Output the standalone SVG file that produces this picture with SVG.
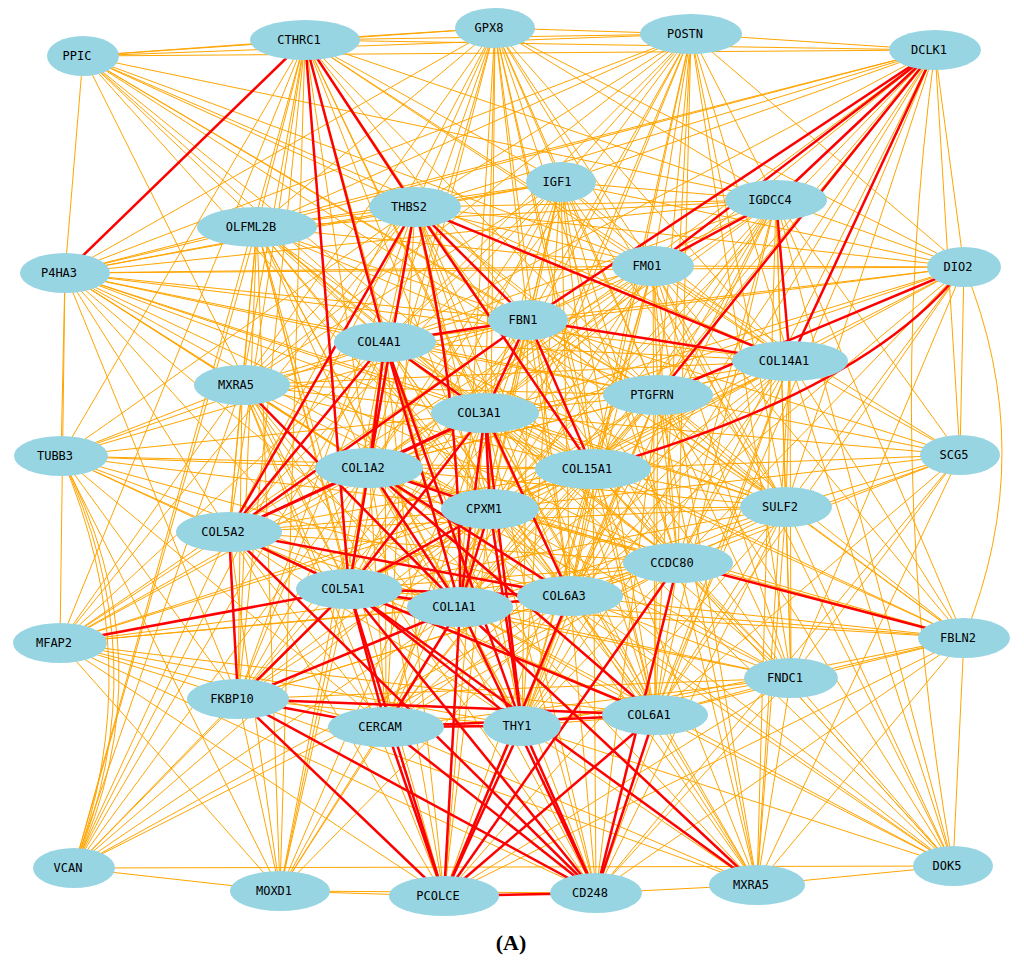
<svg xmlns="http://www.w3.org/2000/svg" width="1024" height="964" viewBox="0 0 1024 964">
<style>
.e{stroke:#ffa500;stroke-width:1;fill:none}
.r{stroke:#ff0000;stroke-width:2.5;fill:none}
.n ellipse{fill:#98d5e3}
.n text{font-family:"DejaVu Sans Mono","Liberation Mono",monospace;font-size:12px;fill:#000;text-anchor:middle}
.cap{font-family:"Liberation Serif","Times New Roman",serif;font-weight:bold;font-size:22px;fill:#000;text-anchor:middle}
</style>
<rect width="1024" height="964" fill="#fff"/>
<g id="connectors">
<g class="e">
<line x1="83" y1="56" x2="305" y2="40"/><line x1="83" y1="56" x2="495" y2="28"/><line x1="83" y1="56" x2="691" y2="34"/><line x1="83" y1="56" x2="935" y2="50"/><line x1="83" y1="56" x2="415" y2="207"/><line x1="83" y1="56" x2="776" y2="200"/><line x1="83" y1="56" x2="65" y2="273"/><line x1="83" y1="56" x2="653" y2="266"/><line x1="83" y1="56" x2="528" y2="320"/><line x1="83" y1="56" x2="385" y2="342"/><line x1="83" y1="56" x2="790" y2="361"/><line x1="83" y1="56" x2="658" y2="395"/><line x1="83" y1="56" x2="485" y2="413"/><line x1="83" y1="56" x2="593" y2="469"/><line x1="83" y1="56" x2="490" y2="509"/><line x1="83" y1="56" x2="786" y2="507"/><line x1="83" y1="56" x2="349" y2="589"/>
<line x1="305" y1="40" x2="495" y2="28"/><line x1="305" y1="40" x2="691" y2="34"/><line x1="305" y1="40" x2="935" y2="50"/><line x1="305" y1="40" x2="561" y2="182"/><line x1="305" y1="40" x2="257" y2="227"/><line x1="305" y1="40" x2="776" y2="200"/><line x1="305" y1="40" x2="653" y2="266"/><line x1="305" y1="40" x2="528" y2="320"/><line x1="305" y1="40" x2="790" y2="361"/><line x1="305" y1="40" x2="242" y2="385"/><line x1="305" y1="40" x2="658" y2="395"/><line x1="305" y1="40" x2="485" y2="413"/><line x1="305" y1="40" x2="61" y2="456"/><line x1="305" y1="40" x2="369" y2="468"/><line x1="305" y1="40" x2="593" y2="469"/><line x1="305" y1="40" x2="490" y2="509"/><line x1="305" y1="40" x2="229" y2="532"/><line x1="305" y1="40" x2="460" y2="607"/><line x1="305" y1="40" x2="570" y2="596"/><line x1="305" y1="40" x2="60" y2="643"/><line x1="305" y1="40" x2="238" y2="699"/><line x1="305" y1="40" x2="74" y2="868"/><line x1="305" y1="40" x2="280" y2="891"/>
<line x1="495" y1="28" x2="691" y2="34"/><line x1="495" y1="28" x2="561" y2="182"/><line x1="495" y1="28" x2="415" y2="207"/><line x1="495" y1="28" x2="257" y2="227"/><line x1="495" y1="28" x2="776" y2="200"/><line x1="495" y1="28" x2="65" y2="273"/><line x1="495" y1="28" x2="653" y2="266"/><line x1="495" y1="28" x2="964" y2="267"/><line x1="495" y1="28" x2="528" y2="320"/><line x1="495" y1="28" x2="385" y2="342"/><line x1="495" y1="28" x2="790" y2="361"/><line x1="495" y1="28" x2="242" y2="385"/><line x1="495" y1="28" x2="658" y2="395"/><line x1="495" y1="28" x2="485" y2="413"/><line x1="495" y1="28" x2="369" y2="468"/><line x1="495" y1="28" x2="593" y2="469"/><line x1="495" y1="28" x2="490" y2="509"/><line x1="495" y1="28" x2="786" y2="507"/><line x1="495" y1="28" x2="229" y2="532"/><line x1="495" y1="28" x2="678" y2="563"/><line x1="495" y1="28" x2="349" y2="589"/><line x1="495" y1="28" x2="460" y2="607"/><line x1="495" y1="28" x2="570" y2="596"/><line x1="495" y1="28" x2="655" y2="715"/>
<line x1="691" y1="34" x2="935" y2="50"/><line x1="691" y1="34" x2="561" y2="182"/><line x1="691" y1="34" x2="415" y2="207"/><line x1="691" y1="34" x2="257" y2="227"/><line x1="691" y1="34" x2="776" y2="200"/><line x1="691" y1="34" x2="65" y2="273"/><line x1="691" y1="34" x2="653" y2="266"/><line x1="691" y1="34" x2="964" y2="267"/><line x1="691" y1="34" x2="528" y2="320"/><line x1="691" y1="34" x2="385" y2="342"/><line x1="691" y1="34" x2="790" y2="361"/><line x1="691" y1="34" x2="242" y2="385"/><line x1="691" y1="34" x2="658" y2="395"/><line x1="691" y1="34" x2="485" y2="413"/><line x1="691" y1="34" x2="369" y2="468"/><line x1="691" y1="34" x2="593" y2="469"/><line x1="691" y1="34" x2="490" y2="509"/><line x1="691" y1="34" x2="786" y2="507"/><line x1="691" y1="34" x2="678" y2="563"/><line x1="691" y1="34" x2="460" y2="607"/><line x1="691" y1="34" x2="570" y2="596"/><line x1="691" y1="34" x2="791" y2="678"/><line x1="691" y1="34" x2="655" y2="715"/>
<line x1="935" y1="50" x2="561" y2="182"/><line x1="935" y1="50" x2="415" y2="207"/><line x1="935" y1="50" x2="257" y2="227"/><line x1="935" y1="50" x2="65" y2="273"/><line x1="935" y1="50" x2="964" y2="267"/><line x1="935" y1="50" x2="385" y2="342"/><line x1="935" y1="50" x2="485" y2="413"/><line x1="935" y1="50" x2="960" y2="455"/><line x1="935" y1="50" x2="369" y2="468"/><line x1="935" y1="50" x2="593" y2="469"/><line x1="935" y1="50" x2="490" y2="509"/><line x1="935" y1="50" x2="786" y2="507"/><line x1="935" y1="50" x2="678" y2="563"/><line x1="935" y1="50" x2="460" y2="607"/><line x1="935" y1="50" x2="570" y2="596"/><line x1="935" y1="50" x2="522" y2="726"/><line x1="935" y1="50" x2="655" y2="715"/>
<line x1="561" y1="182" x2="415" y2="207"/><line x1="561" y1="182" x2="257" y2="227"/><line x1="561" y1="182" x2="776" y2="200"/><line x1="561" y1="182" x2="65" y2="273"/><line x1="561" y1="182" x2="653" y2="266"/><line x1="561" y1="182" x2="964" y2="267"/><line x1="561" y1="182" x2="528" y2="320"/><line x1="561" y1="182" x2="385" y2="342"/><line x1="561" y1="182" x2="790" y2="361"/><line x1="561" y1="182" x2="242" y2="385"/><line x1="561" y1="182" x2="658" y2="395"/><line x1="561" y1="182" x2="485" y2="413"/><line x1="561" y1="182" x2="369" y2="468"/><line x1="561" y1="182" x2="593" y2="469"/><line x1="561" y1="182" x2="490" y2="509"/><line x1="561" y1="182" x2="786" y2="507"/><line x1="561" y1="182" x2="229" y2="532"/><line x1="561" y1="182" x2="678" y2="563"/><line x1="561" y1="182" x2="349" y2="589"/><line x1="561" y1="182" x2="460" y2="607"/><line x1="561" y1="182" x2="570" y2="596"/><line x1="561" y1="182" x2="522" y2="726"/><line x1="561" y1="182" x2="655" y2="715"/>
<line x1="415" y1="207" x2="257" y2="227"/><line x1="415" y1="207" x2="776" y2="200"/><line x1="415" y1="207" x2="65" y2="273"/><line x1="415" y1="207" x2="653" y2="266"/><line x1="415" y1="207" x2="964" y2="267"/><line x1="415" y1="207" x2="385" y2="342"/><line x1="415" y1="207" x2="242" y2="385"/><line x1="415" y1="207" x2="658" y2="395"/><line x1="415" y1="207" x2="485" y2="413"/><line x1="415" y1="207" x2="61" y2="456"/><line x1="415" y1="207" x2="490" y2="509"/><line x1="415" y1="207" x2="786" y2="507"/><line x1="415" y1="207" x2="678" y2="563"/><line x1="415" y1="207" x2="349" y2="589"/><line x1="415" y1="207" x2="570" y2="596"/><line x1="415" y1="207" x2="60" y2="643"/><line x1="415" y1="207" x2="238" y2="699"/><line x1="415" y1="207" x2="386" y2="727"/><line x1="415" y1="207" x2="522" y2="726"/><line x1="415" y1="207" x2="655" y2="715"/><line x1="415" y1="207" x2="74" y2="868"/>
<line x1="257" y1="227" x2="776" y2="200"/><line x1="257" y1="227" x2="65" y2="273"/><line x1="257" y1="227" x2="653" y2="266"/><line x1="257" y1="227" x2="528" y2="320"/><line x1="257" y1="227" x2="385" y2="342"/><line x1="257" y1="227" x2="242" y2="385"/><line x1="257" y1="227" x2="658" y2="395"/><line x1="257" y1="227" x2="485" y2="413"/><line x1="257" y1="227" x2="369" y2="468"/><line x1="257" y1="227" x2="593" y2="469"/><line x1="257" y1="227" x2="490" y2="509"/><line x1="257" y1="227" x2="229" y2="532"/><line x1="257" y1="227" x2="678" y2="563"/><line x1="257" y1="227" x2="349" y2="589"/><line x1="257" y1="227" x2="460" y2="607"/><line x1="257" y1="227" x2="570" y2="596"/><line x1="257" y1="227" x2="238" y2="699"/><line x1="257" y1="227" x2="386" y2="727"/><line x1="257" y1="227" x2="522" y2="726"/><line x1="257" y1="227" x2="74" y2="868"/><line x1="257" y1="227" x2="280" y2="891"/><line x1="257" y1="227" x2="444" y2="896"/>
<line x1="776" y1="200" x2="65" y2="273"/><line x1="776" y1="200" x2="964" y2="267"/><line x1="776" y1="200" x2="528" y2="320"/><line x1="776" y1="200" x2="385" y2="342"/><line x1="776" y1="200" x2="658" y2="395"/><line x1="776" y1="200" x2="485" y2="413"/><line x1="776" y1="200" x2="960" y2="455"/><line x1="776" y1="200" x2="369" y2="468"/><line x1="776" y1="200" x2="593" y2="469"/><line x1="776" y1="200" x2="490" y2="509"/><line x1="776" y1="200" x2="786" y2="507"/><line x1="776" y1="200" x2="678" y2="563"/><line x1="776" y1="200" x2="460" y2="607"/><line x1="776" y1="200" x2="570" y2="596"/><line x1="776" y1="200" x2="964" y2="638"/><line x1="776" y1="200" x2="791" y2="678"/><line x1="776" y1="200" x2="522" y2="726"/><line x1="776" y1="200" x2="655" y2="715"/><line x1="776" y1="200" x2="757" y2="885"/><line x1="776" y1="200" x2="953" y2="866"/>
<line x1="65" y1="273" x2="653" y2="266"/><line x1="65" y1="273" x2="964" y2="267"/><line x1="65" y1="273" x2="528" y2="320"/><line x1="65" y1="273" x2="385" y2="342"/><line x1="65" y1="273" x2="790" y2="361"/><line x1="65" y1="273" x2="242" y2="385"/><line x1="65" y1="273" x2="658" y2="395"/><line x1="65" y1="273" x2="485" y2="413"/><line x1="65" y1="273" x2="61" y2="456"/><line x1="65" y1="273" x2="369" y2="468"/><line x1="65" y1="273" x2="593" y2="469"/><line x1="65" y1="273" x2="490" y2="509"/><line x1="65" y1="273" x2="786" y2="507"/><line x1="65" y1="273" x2="229" y2="532"/><line x1="65" y1="273" x2="678" y2="563"/><line x1="65" y1="273" x2="349" y2="589"/><line x1="65" y1="273" x2="460" y2="607"/><line x1="65" y1="273" x2="570" y2="596"/><line x1="65" y1="273" x2="60" y2="643"/><line x1="65" y1="273" x2="238" y2="699"/>
<line x1="653" y1="266" x2="964" y2="267"/><line x1="653" y1="266" x2="528" y2="320"/><line x1="653" y1="266" x2="385" y2="342"/><line x1="653" y1="266" x2="790" y2="361"/><line x1="653" y1="266" x2="658" y2="395"/><line x1="653" y1="266" x2="485" y2="413"/><line x1="653" y1="266" x2="960" y2="455"/><line x1="653" y1="266" x2="369" y2="468"/><line x1="653" y1="266" x2="593" y2="469"/><line x1="653" y1="266" x2="490" y2="509"/><line x1="653" y1="266" x2="786" y2="507"/><line x1="653" y1="266" x2="229" y2="532"/><line x1="653" y1="266" x2="678" y2="563"/><line x1="653" y1="266" x2="349" y2="589"/><line x1="653" y1="266" x2="460" y2="607"/><line x1="653" y1="266" x2="570" y2="596"/><line x1="653" y1="266" x2="964" y2="638"/><line x1="653" y1="266" x2="791" y2="678"/><line x1="653" y1="266" x2="522" y2="726"/><line x1="653" y1="266" x2="655" y2="715"/><line x1="653" y1="266" x2="757" y2="885"/><line x1="653" y1="266" x2="953" y2="866"/>
<line x1="964" y1="267" x2="528" y2="320"/><line x1="964" y1="267" x2="385" y2="342"/><line x1="964" y1="267" x2="790" y2="361"/><line x1="964" y1="267" x2="485" y2="413"/><line x1="964" y1="267" x2="960" y2="455"/><line x1="964" y1="267" x2="369" y2="468"/><line x1="964" y1="267" x2="490" y2="509"/><line x1="964" y1="267" x2="786" y2="507"/><line x1="964" y1="267" x2="678" y2="563"/><line x1="964" y1="267" x2="570" y2="596"/><line x1="964" y1="267" x2="791" y2="678"/><line x1="964" y1="267" x2="655" y2="715"/>
<line x1="528" y1="320" x2="242" y2="385"/><line x1="528" y1="320" x2="658" y2="395"/><line x1="528" y1="320" x2="61" y2="456"/><line x1="528" y1="320" x2="960" y2="455"/><line x1="528" y1="320" x2="490" y2="509"/><line x1="528" y1="320" x2="786" y2="507"/><line x1="528" y1="320" x2="678" y2="563"/><line x1="528" y1="320" x2="349" y2="589"/><line x1="528" y1="320" x2="460" y2="607"/><line x1="528" y1="320" x2="570" y2="596"/><line x1="528" y1="320" x2="60" y2="643"/><line x1="528" y1="320" x2="964" y2="638"/><line x1="528" y1="320" x2="791" y2="678"/><line x1="528" y1="320" x2="238" y2="699"/><line x1="528" y1="320" x2="386" y2="727"/><line x1="528" y1="320" x2="522" y2="726"/><line x1="528" y1="320" x2="655" y2="715"/>
<line x1="385" y1="342" x2="790" y2="361"/><line x1="385" y1="342" x2="242" y2="385"/><line x1="385" y1="342" x2="658" y2="395"/><line x1="385" y1="342" x2="61" y2="456"/><line x1="385" y1="342" x2="593" y2="469"/><line x1="385" y1="342" x2="490" y2="509"/><line x1="385" y1="342" x2="786" y2="507"/><line x1="385" y1="342" x2="678" y2="563"/><line x1="385" y1="342" x2="349" y2="589"/><line x1="385" y1="342" x2="570" y2="596"/><line x1="385" y1="342" x2="60" y2="643"/><line x1="385" y1="342" x2="238" y2="699"/><line x1="385" y1="342" x2="386" y2="727"/><line x1="385" y1="342" x2="655" y2="715"/><line x1="385" y1="342" x2="74" y2="868"/><line x1="385" y1="342" x2="280" y2="891"/><line x1="385" y1="342" x2="444" y2="896"/><line x1="385" y1="342" x2="596" y2="893"/>
<line x1="790" y1="361" x2="242" y2="385"/><line x1="790" y1="361" x2="658" y2="395"/><line x1="790" y1="361" x2="485" y2="413"/><line x1="790" y1="361" x2="960" y2="455"/><line x1="790" y1="361" x2="369" y2="468"/><line x1="790" y1="361" x2="593" y2="469"/><line x1="790" y1="361" x2="490" y2="509"/><line x1="790" y1="361" x2="786" y2="507"/><line x1="790" y1="361" x2="678" y2="563"/><line x1="790" y1="361" x2="349" y2="589"/><line x1="790" y1="361" x2="460" y2="607"/><line x1="790" y1="361" x2="570" y2="596"/><line x1="790" y1="361" x2="964" y2="638"/><line x1="790" y1="361" x2="791" y2="678"/><line x1="790" y1="361" x2="386" y2="727"/><line x1="790" y1="361" x2="522" y2="726"/><line x1="790" y1="361" x2="655" y2="715"/><line x1="790" y1="361" x2="596" y2="893"/><line x1="790" y1="361" x2="757" y2="885"/><line x1="790" y1="361" x2="953" y2="866"/>
<line x1="242" y1="385" x2="658" y2="395"/><line x1="242" y1="385" x2="485" y2="413"/><line x1="242" y1="385" x2="61" y2="456"/><line x1="242" y1="385" x2="369" y2="468"/><line x1="242" y1="385" x2="593" y2="469"/><line x1="242" y1="385" x2="490" y2="509"/><line x1="242" y1="385" x2="229" y2="532"/><line x1="242" y1="385" x2="349" y2="589"/><line x1="242" y1="385" x2="570" y2="596"/><line x1="242" y1="385" x2="60" y2="643"/><line x1="242" y1="385" x2="238" y2="699"/><line x1="242" y1="385" x2="386" y2="727"/><line x1="242" y1="385" x2="522" y2="726"/><line x1="242" y1="385" x2="74" y2="868"/><line x1="242" y1="385" x2="444" y2="896"/><line x1="242" y1="385" x2="596" y2="893"/>
<line x1="658" y1="395" x2="485" y2="413"/><line x1="658" y1="395" x2="960" y2="455"/><line x1="658" y1="395" x2="369" y2="468"/><line x1="658" y1="395" x2="593" y2="469"/><line x1="658" y1="395" x2="490" y2="509"/><line x1="658" y1="395" x2="786" y2="507"/><line x1="658" y1="395" x2="678" y2="563"/><line x1="658" y1="395" x2="349" y2="589"/><line x1="658" y1="395" x2="460" y2="607"/><line x1="658" y1="395" x2="570" y2="596"/><line x1="658" y1="395" x2="964" y2="638"/><line x1="658" y1="395" x2="791" y2="678"/><line x1="658" y1="395" x2="386" y2="727"/><line x1="658" y1="395" x2="522" y2="726"/><line x1="658" y1="395" x2="655" y2="715"/><line x1="658" y1="395" x2="444" y2="896"/><line x1="658" y1="395" x2="596" y2="893"/><line x1="658" y1="395" x2="757" y2="885"/><line x1="658" y1="395" x2="953" y2="866"/>
<line x1="485" y1="413" x2="61" y2="456"/><line x1="485" y1="413" x2="960" y2="455"/><line x1="485" y1="413" x2="593" y2="469"/><line x1="485" y1="413" x2="786" y2="507"/><line x1="485" y1="413" x2="678" y2="563"/><line x1="485" y1="413" x2="60" y2="643"/><line x1="485" y1="413" x2="964" y2="638"/><line x1="485" y1="413" x2="791" y2="678"/><line x1="485" y1="413" x2="238" y2="699"/><line x1="485" y1="413" x2="386" y2="727"/><line x1="485" y1="413" x2="655" y2="715"/><line x1="485" y1="413" x2="280" y2="891"/><line x1="485" y1="413" x2="444" y2="896"/><line x1="485" y1="413" x2="596" y2="893"/><line x1="485" y1="413" x2="757" y2="885"/><line x1="485" y1="413" x2="953" y2="866"/>
<line x1="61" y1="456" x2="369" y2="468"/><line x1="61" y1="456" x2="593" y2="469"/><line x1="61" y1="456" x2="490" y2="509"/><line x1="61" y1="456" x2="229" y2="532"/><line x1="61" y1="456" x2="349" y2="589"/><line x1="61" y1="456" x2="460" y2="607"/><line x1="61" y1="456" x2="570" y2="596"/><line x1="61" y1="456" x2="238" y2="699"/><line x1="61" y1="456" x2="386" y2="727"/><line x1="61" y1="456" x2="280" y2="891"/>
<line x1="960" y1="455" x2="593" y2="469"/><line x1="960" y1="455" x2="490" y2="509"/><line x1="960" y1="455" x2="786" y2="507"/><line x1="960" y1="455" x2="678" y2="563"/><line x1="960" y1="455" x2="570" y2="596"/><line x1="960" y1="455" x2="791" y2="678"/><line x1="960" y1="455" x2="655" y2="715"/><line x1="960" y1="455" x2="596" y2="893"/><line x1="960" y1="455" x2="757" y2="885"/>
<line x1="369" y1="468" x2="593" y2="469"/><line x1="369" y1="468" x2="786" y2="507"/><line x1="369" y1="468" x2="678" y2="563"/><line x1="369" y1="468" x2="60" y2="643"/><line x1="369" y1="468" x2="964" y2="638"/><line x1="369" y1="468" x2="791" y2="678"/><line x1="369" y1="468" x2="238" y2="699"/><line x1="369" y1="468" x2="386" y2="727"/><line x1="369" y1="468" x2="522" y2="726"/><line x1="369" y1="468" x2="74" y2="868"/><line x1="369" y1="468" x2="280" y2="891"/><line x1="369" y1="468" x2="444" y2="896"/><line x1="369" y1="468" x2="596" y2="893"/><line x1="369" y1="468" x2="757" y2="885"/><line x1="369" y1="468" x2="953" y2="866"/>
<line x1="593" y1="469" x2="490" y2="509"/><line x1="593" y1="469" x2="786" y2="507"/><line x1="593" y1="469" x2="229" y2="532"/><line x1="593" y1="469" x2="678" y2="563"/><line x1="593" y1="469" x2="349" y2="589"/><line x1="593" y1="469" x2="460" y2="607"/><line x1="593" y1="469" x2="570" y2="596"/><line x1="593" y1="469" x2="60" y2="643"/><line x1="593" y1="469" x2="964" y2="638"/><line x1="593" y1="469" x2="791" y2="678"/><line x1="593" y1="469" x2="238" y2="699"/><line x1="593" y1="469" x2="386" y2="727"/><line x1="593" y1="469" x2="522" y2="726"/><line x1="593" y1="469" x2="655" y2="715"/><line x1="593" y1="469" x2="444" y2="896"/><line x1="593" y1="469" x2="596" y2="893"/><line x1="593" y1="469" x2="757" y2="885"/><line x1="593" y1="469" x2="953" y2="866"/>
<line x1="490" y1="509" x2="786" y2="507"/><line x1="490" y1="509" x2="229" y2="532"/><line x1="490" y1="509" x2="678" y2="563"/><line x1="490" y1="509" x2="570" y2="596"/><line x1="490" y1="509" x2="60" y2="643"/><line x1="490" y1="509" x2="964" y2="638"/><line x1="490" y1="509" x2="791" y2="678"/><line x1="490" y1="509" x2="238" y2="699"/><line x1="490" y1="509" x2="386" y2="727"/><line x1="490" y1="509" x2="655" y2="715"/><line x1="490" y1="509" x2="74" y2="868"/><line x1="490" y1="509" x2="280" y2="891"/><line x1="490" y1="509" x2="444" y2="896"/><line x1="490" y1="509" x2="596" y2="893"/><line x1="490" y1="509" x2="757" y2="885"/><line x1="490" y1="509" x2="953" y2="866"/>
<line x1="786" y1="507" x2="229" y2="532"/><line x1="786" y1="507" x2="678" y2="563"/><line x1="786" y1="507" x2="349" y2="589"/><line x1="786" y1="507" x2="460" y2="607"/><line x1="786" y1="507" x2="570" y2="596"/><line x1="786" y1="507" x2="964" y2="638"/><line x1="786" y1="507" x2="791" y2="678"/><line x1="786" y1="507" x2="655" y2="715"/><line x1="786" y1="507" x2="444" y2="896"/><line x1="786" y1="507" x2="596" y2="893"/><line x1="786" y1="507" x2="757" y2="885"/><line x1="786" y1="507" x2="953" y2="866"/>
<line x1="229" y1="532" x2="678" y2="563"/><line x1="229" y1="532" x2="460" y2="607"/><line x1="229" y1="532" x2="60" y2="643"/><line x1="229" y1="532" x2="386" y2="727"/><line x1="229" y1="532" x2="522" y2="726"/><line x1="229" y1="532" x2="655" y2="715"/><line x1="229" y1="532" x2="74" y2="868"/><line x1="229" y1="532" x2="280" y2="891"/><line x1="229" y1="532" x2="444" y2="896"/>
<line x1="678" y1="563" x2="349" y2="589"/><line x1="678" y1="563" x2="460" y2="607"/><line x1="678" y1="563" x2="570" y2="596"/><line x1="678" y1="563" x2="60" y2="643"/><line x1="678" y1="563" x2="791" y2="678"/><line x1="678" y1="563" x2="238" y2="699"/><line x1="678" y1="563" x2="386" y2="727"/><line x1="678" y1="563" x2="522" y2="726"/><line x1="678" y1="563" x2="655" y2="715"/><line x1="678" y1="563" x2="757" y2="885"/><line x1="678" y1="563" x2="953" y2="866"/><line x1="678" y1="563" x2="74" y2="868"/>
<line x1="349" y1="589" x2="964" y2="638"/><line x1="349" y1="589" x2="791" y2="678"/><line x1="349" y1="589" x2="74" y2="868"/><line x1="349" y1="589" x2="280" y2="891"/>
<line x1="460" y1="607" x2="60" y2="643"/><line x1="460" y1="607" x2="964" y2="638"/><line x1="460" y1="607" x2="791" y2="678"/><line x1="460" y1="607" x2="522" y2="726"/><line x1="460" y1="607" x2="655" y2="715"/><line x1="460" y1="607" x2="74" y2="868"/><line x1="460" y1="607" x2="280" y2="891"/><line x1="460" y1="607" x2="953" y2="866"/>
<line x1="570" y1="596" x2="60" y2="643"/><line x1="570" y1="596" x2="964" y2="638"/><line x1="570" y1="596" x2="791" y2="678"/><line x1="570" y1="596" x2="238" y2="699"/><line x1="570" y1="596" x2="386" y2="727"/><line x1="570" y1="596" x2="522" y2="726"/><line x1="570" y1="596" x2="655" y2="715"/><line x1="570" y1="596" x2="74" y2="868"/><line x1="570" y1="596" x2="280" y2="891"/><line x1="570" y1="596" x2="596" y2="893"/><line x1="570" y1="596" x2="757" y2="885"/><line x1="570" y1="596" x2="953" y2="866"/>
<line x1="60" y1="643" x2="238" y2="699"/><line x1="60" y1="643" x2="386" y2="727"/><line x1="60" y1="643" x2="522" y2="726"/><line x1="60" y1="643" x2="655" y2="715"/><line x1="60" y1="643" x2="280" y2="891"/><line x1="60" y1="643" x2="444" y2="896"/><line x1="60" y1="643" x2="596" y2="893"/>
<line x1="964" y1="638" x2="791" y2="678"/><line x1="964" y1="638" x2="522" y2="726"/><line x1="964" y1="638" x2="655" y2="715"/><line x1="964" y1="638" x2="444" y2="896"/><line x1="964" y1="638" x2="596" y2="893"/><line x1="964" y1="638" x2="757" y2="885"/><line x1="964" y1="638" x2="953" y2="866"/>
<line x1="791" y1="678" x2="238" y2="699"/><line x1="791" y1="678" x2="386" y2="727"/><line x1="791" y1="678" x2="522" y2="726"/><line x1="791" y1="678" x2="655" y2="715"/><line x1="791" y1="678" x2="444" y2="896"/><line x1="791" y1="678" x2="596" y2="893"/><line x1="791" y1="678" x2="757" y2="885"/><line x1="791" y1="678" x2="953" y2="866"/>
<line x1="238" y1="699" x2="522" y2="726"/><line x1="238" y1="699" x2="74" y2="868"/><line x1="238" y1="699" x2="280" y2="891"/><line x1="238" y1="699" x2="757" y2="885"/>
<line x1="386" y1="727" x2="280" y2="891"/><line x1="386" y1="727" x2="757" y2="885"/>
<line x1="522" y1="726" x2="655" y2="715"/><line x1="522" y1="726" x2="757" y2="885"/><line x1="522" y1="726" x2="953" y2="866"/>
<line x1="655" y1="715" x2="757" y2="885"/><line x1="655" y1="715" x2="953" y2="866"/>
<line x1="74" y1="868" x2="280" y2="891"/><line x1="74" y1="868" x2="953" y2="866"/>
<line x1="280" y1="891" x2="444" y2="896"/><line x1="280" y1="891" x2="596" y2="893"/>
<line x1="596" y1="893" x2="757" y2="885"/><line x1="757" y1="885" x2="953" y2="866"/>
<path d="M935 50Q880 458 953 866"/><path d="M964 267Q1040 452 964 638"/><path d="M61 456Q150 662 74 868"/><path d="M61 456Q160 662 74 868"/><path d="M61 456Q170 662 74 868"/>
</g>
<g class="r">
<line x1="305" y1="40" x2="65" y2="273"/><line x1="305" y1="40" x2="415" y2="207"/><line x1="305" y1="40" x2="385" y2="342"/><line x1="305" y1="40" x2="349" y2="589"/>
<line x1="415" y1="207" x2="229" y2="532"/><line x1="415" y1="207" x2="369" y2="468"/><path d="M415 207Q462 390 460 607"/><line x1="415" y1="207" x2="593" y2="469"/><line x1="415" y1="207" x2="528" y2="320"/><line x1="415" y1="207" x2="790" y2="361"/>
<line x1="935" y1="50" x2="653" y2="266"/><line x1="935" y1="50" x2="776" y2="200"/><line x1="935" y1="50" x2="528" y2="320"/><line x1="935" y1="50" x2="658" y2="395"/><line x1="935" y1="50" x2="790" y2="361"/>
<line x1="776" y1="200" x2="653" y2="266"/><line x1="776" y1="200" x2="790" y2="361"/>
<line x1="964" y1="267" x2="658" y2="395"/><path d="M964 267Q870 390 593 469"/>
<line x1="528" y1="320" x2="385" y2="342"/><line x1="528" y1="320" x2="790" y2="361"/><line x1="528" y1="320" x2="593" y2="469"/><line x1="528" y1="320" x2="485" y2="413"/><line x1="528" y1="320" x2="229" y2="532"/>
<line x1="385" y1="342" x2="229" y2="532"/><line x1="385" y1="342" x2="369" y2="468"/><line x1="385" y1="342" x2="485" y2="413"/><line x1="385" y1="342" x2="460" y2="607"/><line x1="385" y1="342" x2="522" y2="726"/>
<line x1="242" y1="385" x2="460" y2="607"/>
<line x1="485" y1="413" x2="229" y2="532"/><line x1="485" y1="413" x2="369" y2="468"/><line x1="485" y1="413" x2="349" y2="589"/><line x1="485" y1="413" x2="490" y2="509"/><line x1="485" y1="413" x2="570" y2="596"/><line x1="485" y1="413" x2="460" y2="607"/><line x1="485" y1="413" x2="522" y2="726"/>
<line x1="369" y1="468" x2="229" y2="532"/><line x1="369" y1="468" x2="349" y2="589"/><line x1="369" y1="468" x2="460" y2="607"/><line x1="369" y1="468" x2="490" y2="509"/><line x1="369" y1="468" x2="570" y2="596"/><line x1="369" y1="468" x2="655" y2="715"/>
<line x1="229" y1="532" x2="238" y2="699"/><line x1="229" y1="532" x2="349" y2="589"/><line x1="229" y1="532" x2="570" y2="596"/><line x1="229" y1="532" x2="596" y2="893"/>
<line x1="349" y1="589" x2="60" y2="643"/><line x1="349" y1="589" x2="460" y2="607"/><line x1="349" y1="589" x2="570" y2="596"/><line x1="349" y1="589" x2="238" y2="699"/><line x1="349" y1="589" x2="386" y2="727"/><line x1="349" y1="589" x2="522" y2="726"/><line x1="349" y1="589" x2="655" y2="715"/><line x1="349" y1="589" x2="444" y2="896"/><line x1="349" y1="589" x2="596" y2="893"/><line x1="349" y1="589" x2="757" y2="885"/>
<line x1="460" y1="607" x2="570" y2="596"/><line x1="460" y1="607" x2="238" y2="699"/><line x1="460" y1="607" x2="386" y2="727"/><line x1="460" y1="607" x2="444" y2="896"/><line x1="460" y1="607" x2="596" y2="893"/><line x1="460" y1="607" x2="757" y2="885"/>
<line x1="490" y1="509" x2="349" y2="589"/><line x1="490" y1="509" x2="460" y2="607"/><line x1="490" y1="509" x2="522" y2="726"/>
<line x1="678" y1="563" x2="964" y2="638"/><line x1="678" y1="563" x2="444" y2="896"/><line x1="678" y1="563" x2="596" y2="893"/>
<line x1="238" y1="699" x2="655" y2="715"/><line x1="238" y1="699" x2="386" y2="727"/><line x1="238" y1="699" x2="596" y2="893"/><line x1="238" y1="699" x2="444" y2="896"/>
<line x1="386" y1="727" x2="522" y2="726"/><line x1="386" y1="727" x2="444" y2="896"/><line x1="386" y1="727" x2="596" y2="893"/><line x1="386" y1="727" x2="655" y2="715"/>
<line x1="522" y1="726" x2="444" y2="896"/><line x1="522" y1="726" x2="596" y2="893"/>
<line x1="655" y1="715" x2="444" y2="896"/><line x1="655" y1="715" x2="596" y2="893"/>
<line x1="444" y1="896" x2="596" y2="893"/><line x1="570" y1="596" x2="444" y2="896"/>
</g>
</g>
<g id="nodes">
<g id="n-PPIC" class="n"><ellipse cx="83" cy="56" rx="36" ry="20"/><text x="77" y="60">PPIC</text></g>
<g id="n-CTHRC1" class="n"><ellipse cx="305" cy="40" rx="55" ry="20"/><text x="299" y="44">CTHRC1</text></g>
<g id="n-GPX8" class="n"><ellipse cx="495" cy="28" rx="40" ry="20"/><text x="489" y="32">GPX8</text></g>
<g id="n-POSTN" class="n"><ellipse cx="691" cy="34" rx="51" ry="20"/><text x="685" y="38">POSTN</text></g>
<g id="n-DCLK1" class="n"><ellipse cx="935" cy="50" rx="46" ry="20"/><text x="929" y="54">DCLK1</text></g>
<g id="n-IGF1" class="n"><ellipse cx="561" cy="182" rx="35" ry="20"/><text x="557" y="186">IGF1</text></g>
<g id="n-THBS2" class="n"><ellipse cx="415" cy="207" rx="46" ry="20"/><text x="409" y="211">THBS2</text></g>
<g id="n-OLFML2B" class="n"><ellipse cx="257" cy="227" rx="60" ry="20"/><text x="251" y="231">OLFML2B</text></g>
<g id="n-IGDCC4" class="n"><ellipse cx="776" cy="200" rx="51" ry="20"/><text x="770" y="204">IGDCC4</text></g>
<g id="n-P4HA3" class="n"><ellipse cx="65" cy="273" rx="45" ry="20"/><text x="59" y="277">P4HA3</text></g>
<g id="n-FMO1" class="n"><ellipse cx="653" cy="266" rx="41" ry="20"/><text x="647" y="270">FMO1</text></g>
<g id="n-DIO2" class="n"><ellipse cx="964" cy="267" rx="37" ry="20"/><text x="958" y="271">DIO2</text></g>
<g id="n-FBN1" class="n"><ellipse cx="528" cy="320" rx="40" ry="20"/><text x="523" y="324">FBN1</text></g>
<g id="n-COL4A1" class="n"><ellipse cx="385" cy="342" rx="51" ry="20"/><text x="379" y="346">COL4A1</text></g>
<g id="n-COL14A1" class="n"><ellipse cx="790" cy="361" rx="58" ry="20"/><text x="784" y="365">COL14A1</text></g>
<g id="n-MXRA5-1" class="n"><ellipse cx="242" cy="385" rx="48" ry="20"/><text x="236" y="389">MXRA5</text></g>
<g id="n-PTGFRN" class="n"><ellipse cx="658" cy="395" rx="55" ry="20"/><text x="652" y="399">PTGFRN</text></g>
<g id="n-COL3A1" class="n"><ellipse cx="485" cy="413" rx="54" ry="20"/><text x="479" y="417">COL3A1</text></g>
<g id="n-TUBB3" class="n"><ellipse cx="61" cy="456" rx="47" ry="20"/><text x="55" y="460">TUBB3</text></g>
<g id="n-SCG5" class="n"><ellipse cx="960" cy="455" rx="40" ry="20"/><text x="954" y="459">SCG5</text></g>
<g id="n-COL1A2" class="n"><ellipse cx="369" cy="468" rx="54" ry="20"/><text x="363" y="472">COL1A2</text></g>
<g id="n-COL15A1" class="n"><ellipse cx="593" cy="469" rx="58" ry="20"/><text x="587" y="473">COL15A1</text></g>
<g id="n-CPXM1" class="n"><ellipse cx="490" cy="509" rx="49" ry="20"/><text x="484" y="513">CPXM1</text></g>
<g id="n-SULF2" class="n"><ellipse cx="786" cy="507" rx="46" ry="20"/><text x="780" y="511">SULF2</text></g>
<g id="n-COL5A2" class="n"><ellipse cx="229" cy="532" rx="53" ry="20"/><text x="223" y="536">COL5A2</text></g>
<g id="n-CCDC80" class="n"><ellipse cx="678" cy="563" rx="55" ry="20"/><text x="672" y="567">CCDC80</text></g>
<g id="n-COL5A1" class="n"><ellipse cx="349" cy="589" rx="53" ry="20"/><text x="343" y="593">COL5A1</text></g>
<g id="n-COL1A1" class="n"><ellipse cx="460" cy="607" rx="53" ry="20"/><text x="454" y="611">COL1A1</text></g>
<g id="n-COL6A3" class="n"><ellipse cx="570" cy="596" rx="53" ry="20"/><text x="564" y="600">COL6A3</text></g>
<g id="n-MFAP2" class="n"><ellipse cx="60" cy="643" rx="47" ry="20"/><text x="54" y="647">MFAP2</text></g>
<g id="n-FBLN2" class="n"><ellipse cx="964" cy="638" rx="46" ry="20"/><text x="958" y="642">FBLN2</text></g>
<g id="n-FNDC1" class="n"><ellipse cx="791" cy="678" rx="47" ry="20"/><text x="785" y="682">FNDC1</text></g>
<g id="n-FKBP10" class="n"><ellipse cx="238" cy="699" rx="51" ry="20"/><text x="232" y="703">FKBP10</text></g>
<g id="n-CERCAM" class="n"><ellipse cx="386" cy="727" rx="58" ry="20"/><text x="380" y="731">CERCAM</text></g>
<g id="n-THY1" class="n"><ellipse cx="522" cy="726" rx="39" ry="20"/><text x="517" y="730">THY1</text></g>
<g id="n-COL6A1" class="n"><ellipse cx="655" cy="715" rx="53" ry="20"/><text x="649" y="719">COL6A1</text></g>
<g id="n-VCAN" class="n"><ellipse cx="74" cy="868" rx="41" ry="20"/><text x="68" y="872">VCAN</text></g>
<g id="n-MOXD1" class="n"><ellipse cx="280" cy="891" rx="50" ry="20"/><text x="274" y="895">MOXD1</text></g>
<g id="n-PCOLCE" class="n"><ellipse cx="444" cy="896" rx="55" ry="20"/><text x="438" y="900">PCOLCE</text></g>
<g id="n-CD248" class="n"><ellipse cx="596" cy="893" rx="46" ry="20"/><text x="590" y="897">CD248</text></g>
<g id="n-MXRA5-2" class="n"><ellipse cx="757" cy="885" rx="48" ry="20"/><text x="751" y="889">MXRA5</text></g>
<g id="n-DOK5" class="n"><ellipse cx="953" cy="866" rx="40" ry="20"/><text x="947" y="870">DOK5</text></g>
</g>
<text class="cap" x="511" y="950">(A)</text>
</svg>
